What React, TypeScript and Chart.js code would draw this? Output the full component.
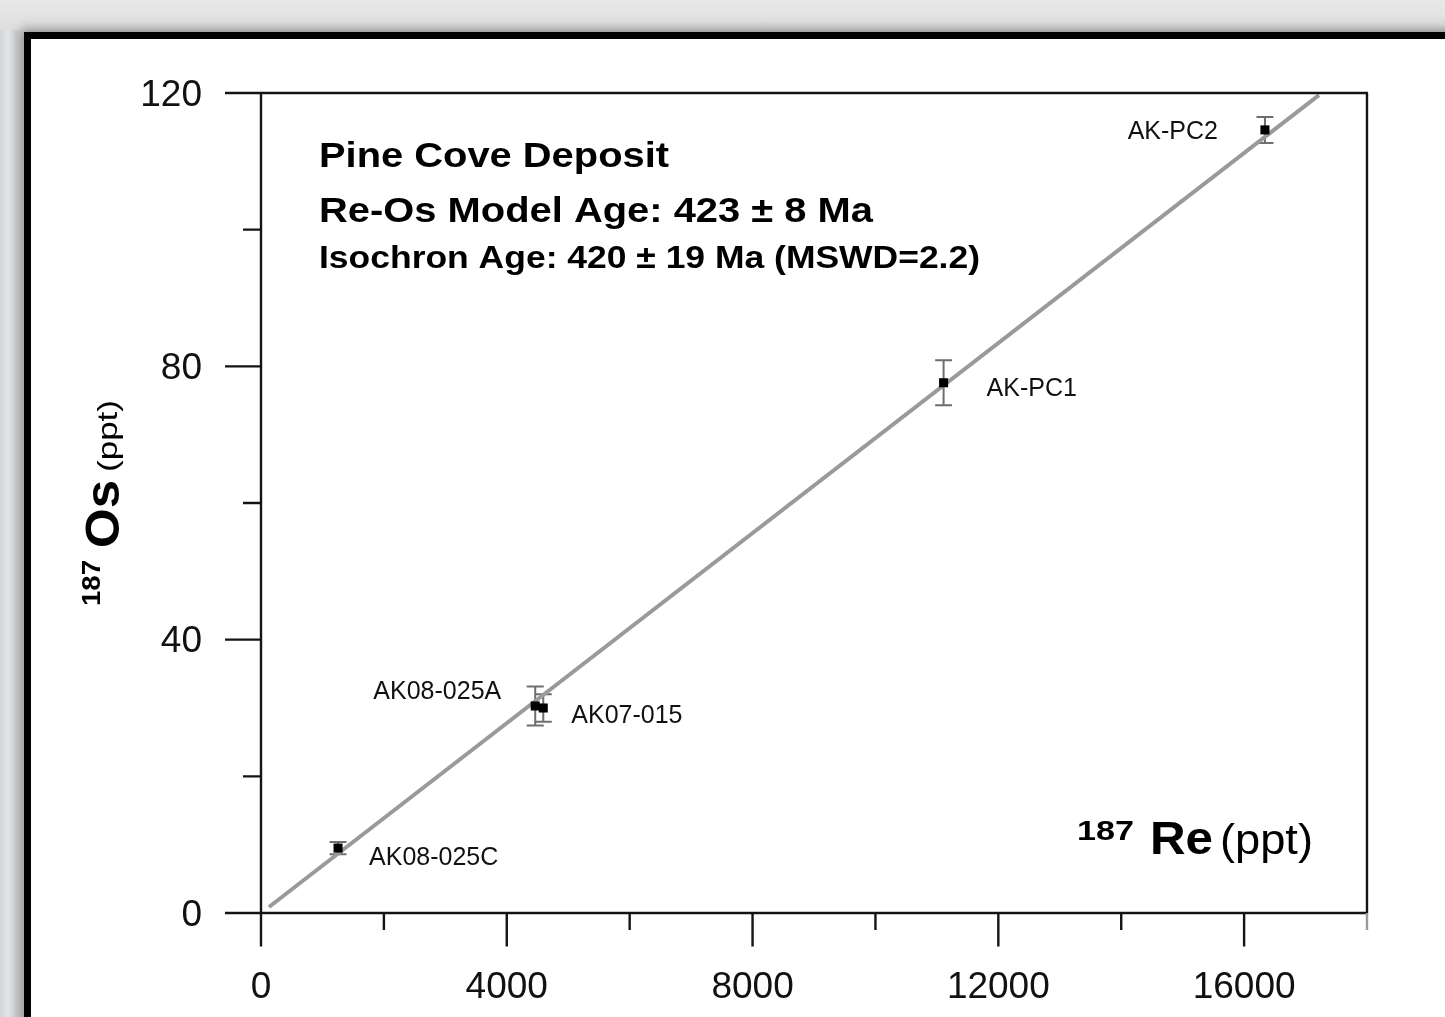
import React, { useEffect, useRef } from "react";
import { Chart, registerables } from "chart.js";

Chart.register(...registerables);

// ---- data ----
const sampleNames = ["AK08-025C", "AK08-025A", "AK07-015", "AK-PC1", "AK-PC2"];
const re187 = [1254, 4463, 4594, 11109, 16339];
const os187 = [9.5, 30.3, 30.0, 77.6, 114.6];
const os187Err = [0.9, 2.85, 2.0, 3.3, 1.9];
const isochronRe = [130, 17218];
const isochronOs = [0.88, 119.7];
const xMajorTicks = [0, 4000, 8000, 12000, 16000];
const xMinorTicks = [2000, 6000, 10000, 14000, 18000];
const yMajorTicks = [0, 40, 80, 120];
const yMinorTicks = [20, 60, 100];
const annotationLines = [
  "Pine Cove Deposit",
  "Re-Os Model Age: 423 \u00b1 8 Ma",
  "Isochron Age: 420 \u00b1 19 Ma (MSWD=2.2)",
];

// ---- styling (not data) ----
const FONT = "'Liberation Sans', Arial, Helvetica, sans-serif";
const labelOffsets = [
  { dx: 31, dy: 10.5, align: "left" },
  { dx: -34, dy: -13.5, align: "right" },
  { dx: 28, dy: 8.5, align: "left" },
  { dx: 43, dy: 6, align: "left" },
  { dx: -47, dy: 2, align: "right" },
];
const annotationStyle = [
  { x: 319, y: 166.5, size: 35, width: 350 },
  { x: 319, y: 222, size: 35, width: 554 },
  { x: 319, y: 268, size: 31, width: 661 },
];

function scaledText(
  ctx: CanvasRenderingContext2D,
  text: string,
  x: number,
  y: number,
  font: string,
  width: number,
  rotate = false
) {
  ctx.save();
  ctx.font = font;
  const w = ctx.measureText(text).width;
  ctx.translate(x, y);
  if (rotate) ctx.rotate(-Math.PI / 2);
  ctx.scale(width / w, 1);
  ctx.textAlign = "left";
  ctx.textBaseline = "alphabetic";
  ctx.fillText(text, 0, 0);
  ctx.restore();
}

const decorPlugin = {
  id: "decor",
  beforeDatasetsDraw(chart: any) {
    const ctx: CanvasRenderingContext2D = chart.ctx;
    const xs = chart.scales.x;
    const ys = chart.scales.y;
    // error bars
    ctx.save();
    ctx.strokeStyle = "#6e6e6e";
    ctx.lineWidth = 2;
    for (let i = 0; i < re187.length; i++) {
      const px = xs.getPixelForValue(re187[i]);
      const top = ys.getPixelForValue(os187[i] + os187Err[i]);
      const bot = ys.getPixelForValue(os187[i] - os187Err[i]);
      ctx.beginPath();
      ctx.moveTo(px, top);
      ctx.lineTo(px, bot);
      ctx.moveTo(px - 8.5, top);
      ctx.lineTo(px + 8.5, top);
      ctx.moveTo(px - 8.5, bot);
      ctx.lineTo(px + 8.5, bot);
      ctx.stroke();
    }
    ctx.restore();
  },
  afterDraw(chart: any) {
    const ctx: CanvasRenderingContext2D = chart.ctx;
    const xs = chart.scales.x;
    const ys = chart.scales.y;
    const x0 = xs.getPixelForValue(0);
    const xr = xs.getPixelForValue(18000);
    const y0 = ys.getPixelForValue(0);
    const yt = ys.getPixelForValue(120);
    const yMajLen = 36;
    const yMinLen = 18;
    const xMajLen = 33.4;
    const xMinLen = 17;

    ctx.save();
    ctx.strokeStyle = "#141414";
    ctx.lineWidth = 2.4;
    ctx.lineCap = "butt";
    ctx.beginPath();
    ctx.moveTo(x0 - yMajLen, y0);
    ctx.lineTo(xr, y0);
    ctx.moveTo(x0, yt);
    ctx.lineTo(x0, y0 + xMajLen);
    ctx.moveTo(x0 - yMajLen, yt);
    ctx.lineTo(xr + 1, yt);
    ctx.moveTo(xr, yt);
    ctx.lineTo(xr, y0);
    for (const v of yMajorTicks) {
      const p = ys.getPixelForValue(v);
      ctx.moveTo(x0 - yMajLen, p);
      ctx.lineTo(x0, p);
    }
    for (const v of yMinorTicks) {
      const p = ys.getPixelForValue(v);
      ctx.moveTo(x0 - yMinLen, p);
      ctx.lineTo(x0, p);
    }
    for (const v of xMajorTicks) {
      const p = xs.getPixelForValue(v);
      ctx.moveTo(p, y0);
      ctx.lineTo(p, y0 + xMajLen);
    }
    for (const v of xMinorTicks) {
      if (v === 18000) continue;
      const p = xs.getPixelForValue(v);
      ctx.moveTo(p, y0);
      ctx.lineTo(p, y0 + xMinLen);
    }
    ctx.stroke();
    ctx.strokeStyle = "#9a9a9a";
    ctx.beginPath();
    ctx.moveTo(xr, y0);
    ctx.lineTo(xr, y0 + xMinLen);
    ctx.stroke();
    ctx.restore();

    // point labels
    ctx.save();
    ctx.fillStyle = "#111";
    ctx.font = `25px ${FONT}`;
    ctx.textBaseline = "middle";
    for (let i = 0; i < sampleNames.length; i++) {
      const px = xs.getPixelForValue(re187[i]);
      const py = ys.getPixelForValue(os187[i]);
      const o = labelOffsets[i];
      ctx.textAlign = o.align as CanvasTextAlign;
      ctx.fillText(sampleNames[i], px + o.dx, py + o.dy);
    }
    ctx.restore();

    // annotation block
    ctx.save();
    ctx.fillStyle = "#000";
    annotationLines.forEach((t, i) => {
      const s = annotationStyle[i];
      scaledText(ctx, t, s.x, s.y, `bold ${s.size}px ${FONT}`, s.width);
    });

    // x axis title
    scaledText(ctx, "187", 1077, 840, `bold 28px ${FONT}`, 57);
    scaledText(ctx, "Re", 1150, 854, `bold 47px ${FONT}`, 63);
    scaledText(ctx, "(ppt)", 1220, 854, `42px ${FONT}`, 93);

    // y axis title (rotated)
    scaledText(ctx, "187", 100, 606, `bold 25px ${FONT}`, 46, true);
    scaledText(ctx, "Os", 119, 548, `bold 48px ${FONT}`, 68, true);
    scaledText(ctx, "(ppt)", 117, 472, `28px ${FONT}`, 72, true);
    ctx.restore();
  },
};

export default function App() {
  const canvasRef = useRef<HTMLCanvasElement | null>(null);

  useEffect(() => {
    const canvas = canvasRef.current;
    if (!canvas) return;
    const chart = new Chart(canvas, {
      type: "scatter",
      data: {
        datasets: [
          {
            label: "samples",
            data: re187.map((x, i) => ({ x, y: os187[i] })),
            backgroundColor: "#000",
            borderColor: "#000",
            pointStyle: "rect",
            pointRadius: 6.4,
            borderWidth: 0,
            order: 0,
          },
          {
            type: "line",
            label: "isochron",
            data: isochronRe.map((x, i) => ({ x, y: isochronOs[i] })),
            borderColor: "#9a9a9a",
            borderWidth: 4,
            pointRadius: 0,
            fill: false,
            order: 1,
          } as any,
        ],
      },
      options: {
        responsive: false,
        animation: false,
        layout: { padding: { top: 93, right: 78, left: 0, bottom: 0 } },
        plugins: {
          legend: { display: false },
          tooltip: { enabled: false },
        },
        scales: {
          x: {
            type: "linear",
            min: 0,
            max: 18000,
            afterFit: (s: any) => {
              s.height = 104;
            },
            afterBuildTicks: (s: any) => {
              s.ticks = xMajorTicks.map((v) => ({ value: v }));
            },
            grid: { display: false, drawTicks: false },
            border: { display: false },
            ticks: {
              padding: 53,
              color: "#111",
              font: { family: FONT, size: 37 },
              maxRotation: 0,
              autoSkip: false,
              callback: (v: any) => String(v),
            },
          },
          y: {
            type: "linear",
            min: 0,
            max: 120,
            afterFit: (s: any) => {
              s.width = 261;
            },
            afterBuildTicks: (s: any) => {
              s.ticks = yMajorTicks.map((v) => ({ value: v }));
            },
            grid: { display: false, drawTicks: false },
            border: { display: false },
            ticks: {
              padding: 59,
              labelOffset: 2.5,
              color: "#111",
              font: { family: FONT, size: 37 },
              autoSkip: false,
              callback: (v: any) => String(v),
            },
          },
        },
      },
      plugins: [decorPlugin],
    });
    return () => chart.destroy();
  }, []);

  return (
    <div
      style={{
        position: "fixed",
        left: 0,
        top: 0,
        width: 1445,
        height: 1017,
        overflow: "hidden",
        background:
          "linear-gradient(90deg, #d3d5d6 0px, #e3e4e5 8px, #cdd0d2 16px, #d9dadb 24px)",
      }}
    >
      <div
        style={{
          position: "absolute",
          left: 0,
          top: 0,
          right: 0,
          height: 30,
          background: "linear-gradient(180deg, #e8e8e8, #dedede)",
        }}
      />
      <div
        style={{
          position: "absolute",
          left: 24,
          top: 32,
          width: 1500,
          height: 1100,
          boxSizing: "border-box",
          border: "7px solid #000",
          background: "#fff",
          boxShadow: "0 0 10px 3px rgba(0,0,0,0.35)",
        }}
      />
      <canvas
        ref={canvasRef}
        width={1445}
        height={1017}
        style={{ position: "absolute", left: 0, top: 0, width: 1445, height: 1017 }}
      />
    </div>
  );
}
